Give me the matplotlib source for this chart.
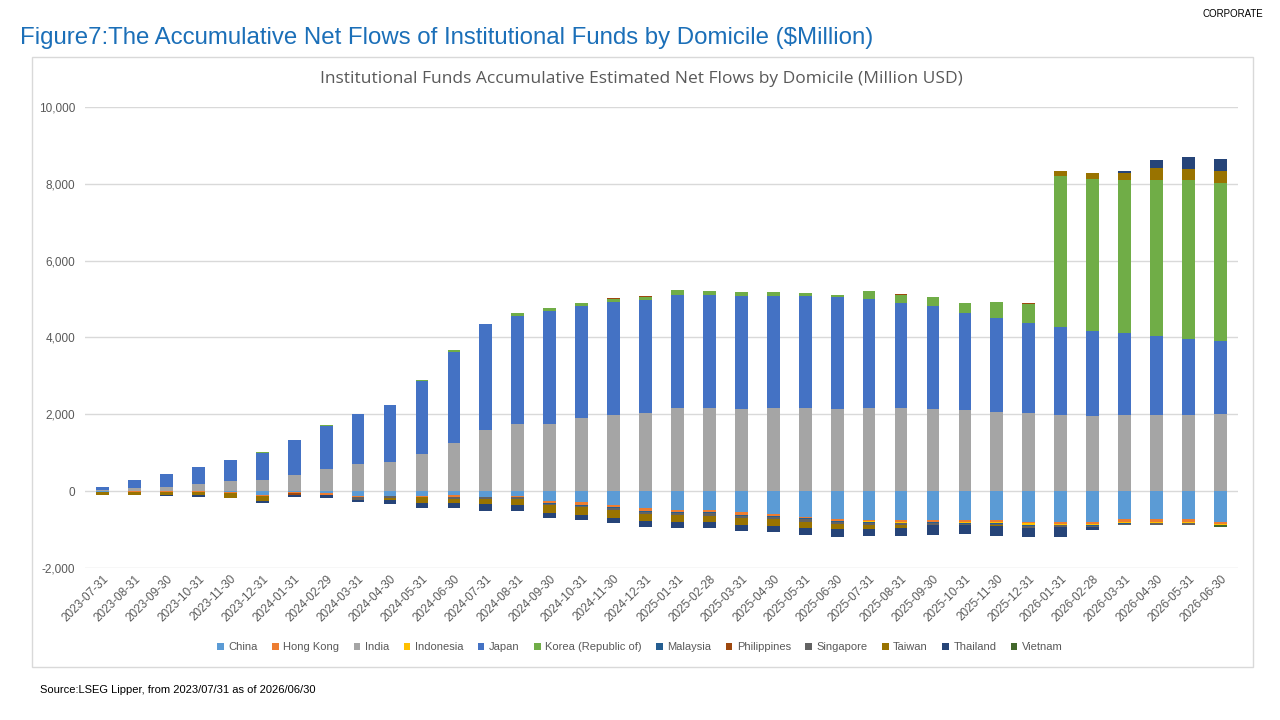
import numpy as np
import pandas as pd
import matplotlib
matplotlib.use("Agg")
import matplotlib.pyplot as plt
from matplotlib.patches import Rectangle
from matplotlib.ticker import FuncFormatter

plt.rcParams["font.family"] = ["Liberation Sans", "DejaVu Sans"]

# month-end dates 2023-07-31 .. 2026-06-30
dates = pd.date_range("2023-07-31", "2026-06-30", freq="ME").strftime("%Y-%m-%d").tolist()

china = [-10, 0, 0, 0, -30, -110, -20, -60, -130, -113, -113, -104,
         -139, -113, -260, -286, -372, -433, -494, -494, -554, -598, -667, -727,
         -753, -753, -753, -753, -753, -797, -797, -797, -727, -727, -727, -797]
hong_kong = [-15, -10, -20, -20, -10, -20, -40, -40, -20, -20, -43, -52,
             -20, -35, -43, -78, -43, -87, -45, -60, -69, -52, -43, -52,
             -35, -43, -43, -50, -60, -43, -60, -60, -69, -69, -69, -69]
india = [20, 70, 120, 190, 260, 300, 420, 580, 710, 750, 980, 1260,
         1590, 1740, 1760, 1900, 1980, 2030, 2160, 2170, 2140, 2170, 2160, 2140,
         2160, 2170, 2140, 2120, 2070, 2030, 1970, 1950, 1980, 1970, 1980, 2020]
indonesia = [0, 0, 0, 0, 0, 0, 0, 0, 0, 0, 0, 0,
             0, 0, 0, 0, 0, 0, 0, 0, 0, 0, 0, 0,
             -10, -25, -10, -25, -20, -40, -15, -25, -40, -20, -30, -17]
japan = [93, 216, 339, 451, 554, 705, 903, 1127, 1298, 1492, 1883, 2372,
         2755, 2831, 2924, 2923, 2946, 2940, 2957, 2930, 2934, 2904, 2914, 2908,
         2853, 2739, 2683, 2521, 2449, 2351, 2316, 2232, 2150, 2073, 1985, 1885]
korea = [0, 0, 0, 0, 10, 10, 20, 25, 10, 10, 20, 30,
         10, 70, 78, 77, 85, 95, 110, 110, 110, 110, 78, 60,
         190, 200, 225, 268, 416, 490, 3930, 3948, 3957, 4061, 4122, 4121]
malaysia = [0, 0, 0, 0, 0, 0, 0, 0, 0, 0, 0, 0,
            0, -15, -20, -15, -20, -20, -25, -25, -20, -25, -25, -25,
            -25, -20, -20, -20, -15, -20, -20, -20, -15, -20, -15, 0]
philippines = [0, 0, 0, 0, 0, 0, -40, 0, 0, 0, 0, 0,
               0, 0, 0, 0, 10, 12, 12, 12, 10, 0, 0, 0,
               0, 25, 0, 0, 0, 15, 0, 0, 0, 0, 0, 0]
singapore = [0, 0, 0, 0, -15, 0, 0, 0, -70, -35, 0, -35,
             -35, -37, -40, -37, -58, -49, -62, -62, -49, -62, -79, -62,
             -62, -40, -49, -40, -25, -49, -49, -40, -28, -49, -35, 0]
taiwan = [-70, -90, -90, -80, -110, -130, 0, 0, 0, -70, -165, -130,
          -147, -165, -200, -208, -200, -190, -173, -173, -190, -165, -156, -121,
          -87, -87, 0, 0, -30, 0, 113, 147, 207, 303, 303, 303]
thailand = [-15, 0, -20, -40, -25, -60, -40, -80, -70, -104, -130, -130,
            -165, -139, -139, -121, -147, -147, -147, -156, -156, -156, -173, -199,
            -199, -199, -260, -234, -260, -234, -243, -69, 35, 208, 311, 320]
vietnam = [0, 0, 0, 0, 0, 0, 0, 0, 0, 0, 0, 0,
           0, 0, 0, 0, 0, 0, 0, 0, 0, 0, 0, 0,
           0, 0, 0, 0, 0, 0, 0, 0, 0, 0, -10, -52]

series = [
    ("China", china, "#5B9BD5"),
    ("Hong Kong", hong_kong, "#ED7D31"),
    ("India", india, "#A5A5A5"),
    ("Indonesia", indonesia, "#FFC000"),
    ("Japan", japan, "#4472C4"),
    ("Korea (Republic of)", korea, "#70AD47"),
    ("Malaysia", malaysia, "#255E91"),
    ("Philippines", philippines, "#9E480E"),
    ("Singapore", singapore, "#636363"),
    ("Taiwan", taiwan, "#997300"),
    ("Thailand", thailand, "#264478"),
    ("Vietnam", vietnam, "#43682B"),
]

fig = plt.figure(figsize=(12.8, 7.2), dpi=100)
fig.patch.set_facecolor("white")

fig.text(0.016, 0.947, "Figure7:The Accumulative Net Flows of Institutional Funds by Domicile ($Million)",
         fontsize=17.3, color="#1B6FB8", va="center", ha="left")
fig.text(0.987, 0.981, "CORPORATE", fontsize=7, color="black", ha="right", va="center")
fig.text(0.031, 0.041, "Source:LSEG Lipper, from 2023/07/31 as of 2026/06/30",
         fontsize=8, color="black", ha="left", va="center")

# chart frame
fig.patches.append(Rectangle((32 / 1280, 1 - 667 / 720), (1253 - 32) / 1280, (667 - 57) / 720,
                             transform=fig.transFigure, fill=False, edgecolor="#D9D9D9", lw=1))
fig.text(0.501, 0.890, "Institutional Funds Accumulative Estimated Net Flows by Domicile (Million USD)",
         fontsize=12.5, color="#595959", ha="center", va="center", family=["Open Sans", "DejaVu Sans"])

ax = fig.add_axes([85 / 1280, 1 - 568 / 720, (1238 - 85) / 1280, (568 - 107) / 720])
x = np.arange(len(dates))
pos_bottom = np.zeros(len(dates))
neg_bottom = np.zeros(len(dates))
for name, vals, color in series:
    v = np.array(vals, dtype=float)
    bottom = np.where(v >= 0, pos_bottom, neg_bottom)
    ax.bar(x, v, width=0.4, bottom=bottom, color=color, label=name, zorder=3)
    pos_bottom += np.where(v > 0, v, 0)
    neg_bottom += np.where(v < 0, v, 0)

ax.set_ylim(-2000, 10000)
ax.set_xlim(-0.55, 35.55)
ax.set_yticks(range(-2000, 10001, 2000))
ax.yaxis.set_major_formatter(FuncFormatter(lambda v, p: f"{int(v):,}"))
ax.grid(axis="y", color="#D9D9D9", lw=1, zorder=0)
for s in ax.spines.values():
    s.set_visible(False)
ax.tick_params(axis="both", length=0, colors="#595959", labelsize=8.5)
ax.tick_params(axis="y", pad=7)
ax.set_xticks(x)
ax.set_xticklabels(dates, rotation=45, ha="right", rotation_mode="anchor")

fig.legend(loc="center", bbox_to_anchor=(0.5, 1 - 647 / 720), ncol=12, frameon=False,
           fontsize=8, labelcolor="#595959", handlelength=0.6, handleheight=0.6,
           handletextpad=0.4, columnspacing=1.3)

plt.savefig("out.png", dpi=100)
